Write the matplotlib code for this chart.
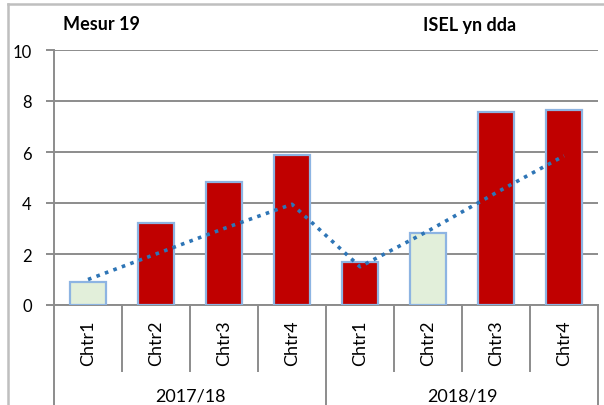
import matplotlib
matplotlib.use("Agg")
import matplotlib.pyplot as plt
from matplotlib.lines import Line2D

quarters = ["Chtr1", "Chtr2", "Chtr3", "Chtr4", "Chtr1", "Chtr2", "Chtr3", "Chtr4"]
years = ["2017/18", "2018/19"]
values = [0.9, 3.2, 4.82, 5.88, 1.68, 2.82, 7.57, 7.65]
good = [True, False, False, False, False, True, False, False]
trend = [1.0, 2.0, 3.0, 3.95, 1.5, 2.9, 4.4, 5.85]
yticks = [0, 2, 4, 6, 8, 10]

RED = "#C00000"
GREEN = "#E2EFDA"
EDGE = "#8DB4E2"
LINE = "#2E75B6"
GRID = "#8C8C8C"
FONT = ["Lato", "DejaVu Sans"]

W, H = 604, 406
fig = plt.figure(figsize=(W / 100, H / 100), dpi=100)
x0, x1, ytop, ybot = 54, 598, 51, 306
ax = fig.add_axes([x0 / W, (H - ybot) / H, (x1 - x0) / W, (ybot - ytop) / H])

xs = list(range(len(values)))
colors = [GREEN if g else RED for g in good]
ax.bar(xs, values, width=0.52, color=colors, edgecolor=EDGE, linewidth=1.6, zorder=3)
ax.plot(xs, trend, linestyle=(0, (1, 1.5)), color=LINE, linewidth=2.6, zorder=4)

ax.set_xlim(-0.5, len(values) - 0.5)
ax.set_ylim(0, 10)
ax.set_yticks(yticks)
ax.set_yticklabels([str(v) for v in yticks], fontsize=12, family=FONT, color="#000000")
ax.yaxis.grid(True, color=GRID, linewidth=1.4, zorder=0)
ax.set_axisbelow(True)
ax.tick_params(axis="y", length=6, width=1.4, color=GRID, pad=10)
ax.set_xticks([])
for s in ["top", "right"]:
    ax.spines[s].set_visible(False)
ax.spines["left"].set_color(GRID)
ax.spines["left"].set_linewidth(1.4)
ax.spines["bottom"].set_color(GRID)
ax.spines["bottom"].set_linewidth(1.4)

ah = ybot - ytop
def yfrac(py):
    return (ybot - py) / ah

trans = ax.get_xaxis_transform()
# category separators
for i in range(len(values) + 1):
    xb = i - 0.5
    if i % 4 == 0:
        y_end = yfrac(H + 2)
    else:
        y_end = yfrac(372)
    ax.add_line(Line2D([xb, xb], [0, y_end], transform=trans, color=GRID,
                       linewidth=1.4, clip_on=False))

for i, q in enumerate(quarters):
    ax.text(i, yfrac(343), q, rotation=90, ha="center", va="center",
            fontsize=13, family=FONT, transform=trans, clip_on=False)
for g, yr in enumerate(years):
    ax.text(g * 4 + 1.5, yfrac(397), yr, ha="center", va="center",
            fontsize=13, family=FONT, transform=trans, clip_on=False)

# titles
fig.text(63 / W, 1 - 25 / H, "Mesur 19", fontsize=13, fontweight="bold",
         family=FONT, ha="left", va="center")
fig.text(470 / W, 1 - 25 / H, "ISEL yn dda", fontsize=13, fontweight="bold",
         family=FONT, ha="center", va="center")

# outer frame
fig.add_artist(Line2D([8 / W, 8 / W], [0, 1 - 5 / H], transform=fig.transFigure,
                      color="#BFBFBF", linewidth=1.8))
fig.add_artist(Line2D([8 / W, 1], [1 - 5 / H, 1 - 5 / H], transform=fig.transFigure,
                      color="#BFBFBF", linewidth=1.8))

fig.savefig("out.png", dpi=100)
